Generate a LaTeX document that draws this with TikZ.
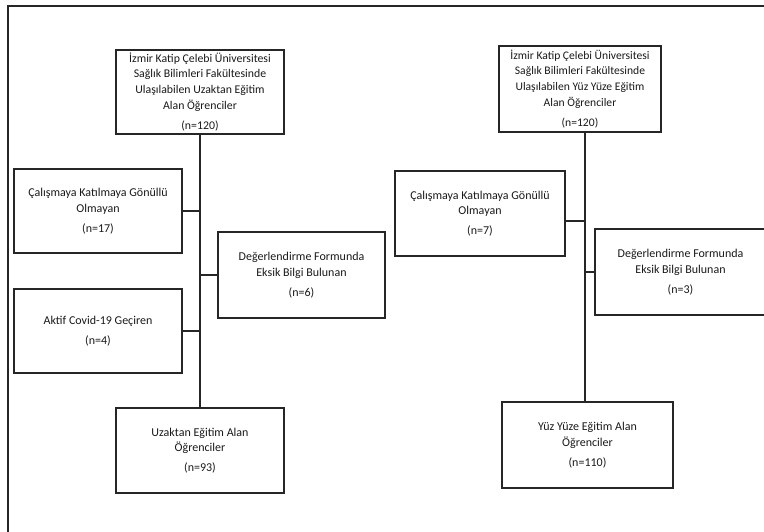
\documentclass[tikz,border=0pt]{standalone}
\usepackage{fontspec}
\setmainfont{Carlito}
\begin{document}
\begin{tikzpicture}[x=1pt,y=-1pt,
  box/.style={draw=black!85,line width=1.3pt,rectangle,inner sep=0pt,align=center,
    font=\fontsize{12}{15.8}\selectfont,text=black!90},
  conn/.style={draw=black!85,line width=1.3pt}]
\useasboundingbox (0,0) rectangle (764,531);
\begin{scope}
\clip (0,0) rectangle (764,531);
\draw[conn] (764,6) -- (8,6) -- (8,540);
% left flow
\node[box,minimum width=168,minimum height=84,font=\fontsize{11.8}{15.6}\selectfont] (ltop) at (200,92)
  {İzmir Katip Çelebi Üniversitesi\\Sağlık Bilimleri Fakültesinde\\Ulaşılabilen Uzaktan Eğitim\\Alan Öğrenciler\\[5pt](n=120)};
\node[box,minimum width=168,minimum height=84] (lcal) at (98,211)
  {Çalışmaya Katılmaya Gönüllü\\Olmayan\\[4pt](n=17)};
\node[box,minimum width=167,minimum height=86] (ldeg) at (301.5,275)
  {Değerlendirme Formunda\\Eksik Bilgi Bulunan\\[4pt](n=6)};
\node[box,minimum width=168,minimum height=84] (lakt) at (98,331)
  {Aktif Covid-19 Geçiren\\[4pt](n=4)};
\node[box,minimum width=168,minimum height=85] (lbot) at (200,450.5)
  {Uzaktan Eğitim Alan\\Öğrenciler\\[4pt](n=93)};
% right flow
\node[box,minimum width=162,minimum height=86,font=\fontsize{11.6}{15.6}\selectfont] (rtop) at (580,89)
  {İzmir Katip Çelebi Üniversitesi\\Sağlık Bilimleri Fakültesinde\\Ulaşılabilen Yüz Yüze Eğitim\\Alan Öğrenciler\\[5pt](n=120)};
\node[box,minimum width=170,minimum height=85] (rcal) at (480,213.5)
  {Çalışmaya Katılmaya Gönüllü\\Olmayan\\[4pt](n=7)};
\node[box,minimum width=171,minimum height=86] (rdeg) at (680.5,272)
  {Değerlendirme Formunda\\Eksik Bilgi Bulunan\\[4pt](n=3)};
\node[box,minimum width=171,minimum height=86] (rbot) at (587.5,445)
  {Yüz Yüze Eğitim Alan\\Öğrenciler\\[4pt](n=110)};
\coordinate (lx) at (200,0);
\coordinate (rx) at (585,0);
% connectors
\draw[conn] (ltop.south -| lx) -- (lbot.north -| lx);
\draw[conn] (lcal.east) -- (lcal.east -| lx);
\draw[conn] (lakt.east) -- (lakt.east -| lx);
\draw[conn] (ldeg.west) -- (ldeg.west -| lx);
\draw[conn] (rtop.south -| rx) -- (rbot.north -| rx);
\draw[conn] ([yshift=-7.5pt]rcal.east) -- ([yshift=-7.5pt]rcal.east -| rx);
\draw[conn] (rdeg.west) -- (rdeg.west -| rx);
\end{scope}
\end{tikzpicture}
\end{document}
